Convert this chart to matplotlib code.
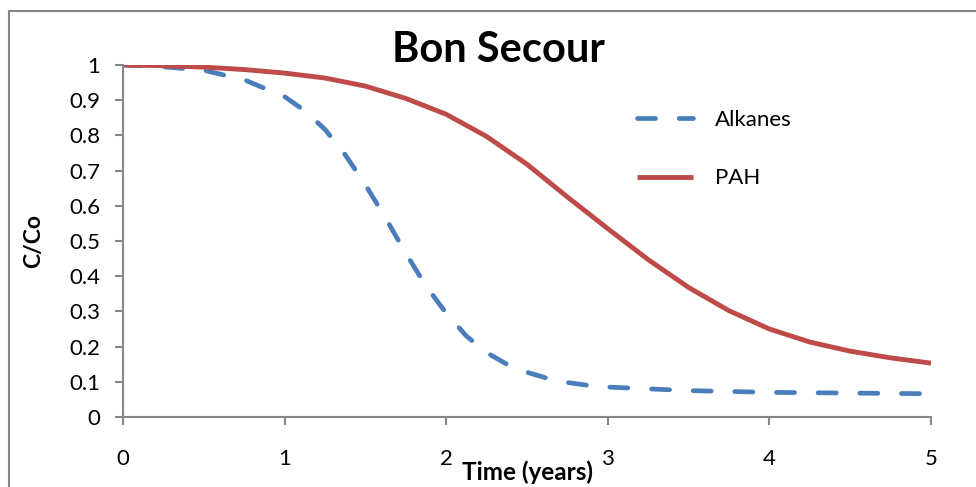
import matplotlib
matplotlib.use("Agg")
import matplotlib.pyplot as plt
from matplotlib.patches import Rectangle

plt.rcParams['font.family'] = ['Lato', 'DejaVu Sans']
plt.rcParams['lines.scale_dashes'] = False

title = "Bon Secour"
x_label = "Time (years)"
y_label = "C/Co"

t_pah = [0, 0.25, 0.5, 0.75, 1.0, 1.25, 1.5, 1.75, 2.0, 2.25, 2.5, 2.75, 3.0,
         3.25, 3.5, 3.75, 4.0, 4.25, 4.5, 4.75, 5.0]
pah = [1.0, 0.998, 0.994, 0.987, 0.977, 0.963, 0.940, 0.905, 0.860, 0.797, 0.718,
       0.625, 0.535, 0.447, 0.368, 0.302, 0.250, 0.213, 0.187, 0.168, 0.153]

t_alk = [0, 0.25, 0.5, 0.75, 1.0, 1.125, 1.25, 1.375, 1.5, 1.625, 1.75, 1.875,
         2.0, 2.125, 2.25, 2.375, 2.5, 2.625, 2.75, 2.875, 3.0, 3.5, 4.0, 4.5, 5.0]
alkanes = [1.0, 0.995, 0.985, 0.958, 0.910, 0.870, 0.817, 0.745, 0.660, 0.565,
           0.465, 0.372, 0.295, 0.230, 0.183, 0.150, 0.127, 0.110, 0.098, 0.090,
           0.085, 0.075, 0.070, 0.068, 0.066]

x_ticks = [0, 1, 2, 3, 4, 5]
y_ticks = [0, 0.1, 0.2, 0.3, 0.4, 0.5, 0.6, 0.7, 0.8, 0.9, 1]
y_tick_labels = ["0", "0.1", "0.2", "0.3", "0.4", "0.5", "0.6", "0.7", "0.8", "0.9", "1"]

blue = "#4a7ebb"
red = "#be4b48"
gray = "#868686"

W, H = 976, 487
fig = plt.figure(figsize=(W / 100, H / 100), dpi=100)
fig.patches.append(Rectangle((9 / W, -0.1), 1.2, 1 - 11 / H + 0.1,
                             transform=fig.transFigure, fill=False,
                             edgecolor=gray, linewidth=1.5))
ax = fig.add_axes([123 / W, 1 - 417 / H, (931 - 123) / W, (417 - 65) / H])

ax.plot(t_alk, alkanes, color=blue, linewidth=3.4, dashes=(13, 17),
        dash_capstyle='round', label="Alkanes")
ax.plot(t_pah, pah, color=red, linewidth=3.5, solid_capstyle='butt',
        solid_joinstyle='round', label="PAH")

ax.set_xlim(0, 5)
ax.set_ylim(0, 1)
ax.set_xticks(x_ticks)
ax.set_xticklabels([str(v) for v in x_ticks])
ax.set_yticks(y_ticks)
ax.set_yticklabels(y_tick_labels)
for s in ['top', 'right']:
    ax.spines[s].set_visible(False)
for s in ['left', 'bottom']:
    ax.spines[s].set_color(gray)
    ax.spines[s].set_linewidth(1.5)
ax.tick_params(direction='out', length=6, width=1.5, color=gray,
               labelsize=16, labelcolor='black')
ax.tick_params(axis='y', pad=10.5)
ax.tick_params(axis='x', pad=17)

fig.text(498 / W, 1 - 62 / H, title, fontsize=30, fontweight='bold',
         ha='center', va='baseline')
ax.set_xlabel(x_label, fontsize=17.5, fontweight='bold')
ax.xaxis.set_label_coords(0.5, (417 - 460) / 352)
ax.set_ylabel(y_label, fontsize=16.5, fontweight='bold')
ax.yaxis.set_label_coords(-0.098, 0.5)

leg = ax.legend(loc='upper left', bbox_to_anchor=(617 / W, 1 - 90 / H),
                bbox_transform=fig.transFigure, frameon=False,
                fontsize=16, handlelength=2.5, handletextpad=1.0,
                labelspacing=1.73)

fig.savefig("out.png", dpi=100)
